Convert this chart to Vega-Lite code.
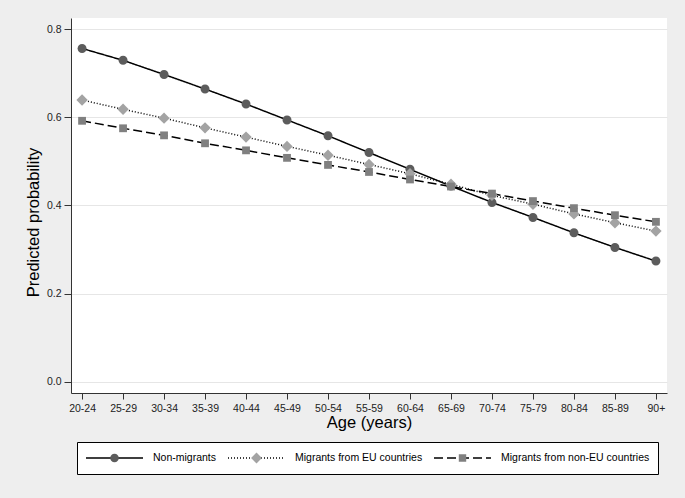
{
  "$schema": "https://vega.github.io/schema/vega-lite/v6.json",
  "width": 596,
  "height": 375,
  "autosize": {"type": "none"},
  "padding": {"left": 71, "top": 18, "right": 18, "bottom": 105},
  "background": "#eeeeee",
  "config": {
    "font": "Liberation Sans",
    "view": {"fill": "white", "stroke": null},
    "axis": {
      "domainColor": "#333333",
      "tickColor": "#333333",
      "labelColor": "#222222",
      "titleColor": "#000000",
      "labelFontSize": 10.5,
      "titleFontSize": 16.5,
      "titleFontWeight": "normal",
      "gridColor": "#e6e6e6",
      "gridWidth": 1
    }
  },
  "data": {
    "values": [
      {"age": "20-24", "group": "Non-migrants", "prob": 0.756},
      {"age": "25-29", "group": "Non-migrants", "prob": 0.729},
      {"age": "30-34", "group": "Non-migrants", "prob": 0.697},
      {"age": "35-39", "group": "Non-migrants", "prob": 0.664},
      {"age": "40-44", "group": "Non-migrants", "prob": 0.630},
      {"age": "45-49", "group": "Non-migrants", "prob": 0.594},
      {"age": "50-54", "group": "Non-migrants", "prob": 0.558},
      {"age": "55-59", "group": "Non-migrants", "prob": 0.520},
      {"age": "60-64", "group": "Non-migrants", "prob": 0.482},
      {"age": "65-69", "group": "Non-migrants", "prob": 0.444},
      {"age": "70-74", "group": "Non-migrants", "prob": 0.407},
      {"age": "75-79", "group": "Non-migrants", "prob": 0.373},
      {"age": "80-84", "group": "Non-migrants", "prob": 0.338},
      {"age": "85-89", "group": "Non-migrants", "prob": 0.305},
      {"age": "90+", "group": "Non-migrants", "prob": 0.274},
      {"age": "20-24", "group": "Migrants from EU countries", "prob": 0.639},
      {"age": "25-29", "group": "Migrants from EU countries", "prob": 0.618},
      {"age": "30-34", "group": "Migrants from EU countries", "prob": 0.598},
      {"age": "35-39", "group": "Migrants from EU countries", "prob": 0.576},
      {"age": "40-44", "group": "Migrants from EU countries", "prob": 0.555},
      {"age": "45-49", "group": "Migrants from EU countries", "prob": 0.534},
      {"age": "50-54", "group": "Migrants from EU countries", "prob": 0.514},
      {"age": "55-59", "group": "Migrants from EU countries", "prob": 0.493},
      {"age": "60-64", "group": "Migrants from EU countries", "prob": 0.472},
      {"age": "65-69", "group": "Migrants from EU countries", "prob": 0.448},
      {"age": "70-74", "group": "Migrants from EU countries", "prob": 0.423},
      {"age": "75-79", "group": "Migrants from EU countries", "prob": 0.403},
      {"age": "80-84", "group": "Migrants from EU countries", "prob": 0.381},
      {"age": "85-89", "group": "Migrants from EU countries", "prob": 0.361},
      {"age": "90+", "group": "Migrants from EU countries", "prob": 0.342},
      {"age": "20-24", "group": "Migrants from non-EU countries", "prob": 0.592},
      {"age": "25-29", "group": "Migrants from non-EU countries", "prob": 0.575},
      {"age": "30-34", "group": "Migrants from non-EU countries", "prob": 0.559},
      {"age": "35-39", "group": "Migrants from non-EU countries", "prob": 0.541},
      {"age": "40-44", "group": "Migrants from non-EU countries", "prob": 0.525},
      {"age": "45-49", "group": "Migrants from non-EU countries", "prob": 0.508},
      {"age": "50-54", "group": "Migrants from non-EU countries", "prob": 0.492},
      {"age": "55-59", "group": "Migrants from non-EU countries", "prob": 0.476},
      {"age": "60-64", "group": "Migrants from non-EU countries", "prob": 0.459},
      {"age": "65-69", "group": "Migrants from non-EU countries", "prob": 0.443},
      {"age": "70-74", "group": "Migrants from non-EU countries", "prob": 0.427},
      {"age": "75-79", "group": "Migrants from non-EU countries", "prob": 0.410},
      {"age": "80-84", "group": "Migrants from non-EU countries", "prob": 0.394},
      {"age": "85-89", "group": "Migrants from non-EU countries", "prob": 0.378},
      {"age": "90+", "group": "Migrants from non-EU countries", "prob": 0.363}
    ]
  },
  "encoding": {
    "x": {
      "field": "age",
      "type": "ordinal",
      "sort": ["20-24","25-29","30-34","35-39","40-44","45-49","50-54","55-59","60-64","65-69","70-74","75-79","80-84","85-89","90+"],
      "scale": {"type": "point", "padding": 0.27},
      "axis": {"title": "Age (years)", "labelAngle": 0, "tickSize": 6, "labelPadding": 4, "grid": false, "titlePadding": 1}
    },
    "y": {
      "field": "prob",
      "type": "quantitative",
      "scale": {"domain": [-0.025, 0.825], "nice": false, "zero": false},
      "axis": {"title": "Predicted probability", "values": [0, 0.2, 0.4, 0.6, 0.8], "format": ".1f", "tickSize": 7, "labelPadding": 3, "grid": true, "titlePadding": 5, "titleY": 204}
    }
  },
  "layer": [
    {
      "mark": {"type": "line", "color": "black", "strokeWidth": 1.5},
      "encoding": {
        "strokeDash": {
          "field": "group",
          "type": "nominal",
          "sort": ["Non-migrants", "Migrants from EU countries", "Migrants from non-EU countries"],
          "scale": {"range": [[1, 0], [1, 2], [9, 4]]},
          "legend": {
            "orient": "none", "legendX": 6, "legendY": 424, "direction": "horizontal",
            "title": null, "symbolType": "stroke", "symbolSize": 3249, "symbolStrokeWidth": 1.5,
            "symbolStrokeColor": "black", "clipHeight": 16, "labelFontSize": 10.5, "labelColor": "black",
            "labelOffset": 9, "columnPadding": 10, "padding": 8,
            "strokeColor": "black", "fillColor": "white", "zindex": 0
          }
        }
      }
    },
    {
      "mark": {"type": "point", "filled": true, "opacity": 1, "size": 3600, "strokeWidth": 1.5},
      "encoding": {
        "shape": {
          "field": "group",
          "type": "nominal",
          "scale": {
            "domain": ["Non-migrants", "Migrants from EU countries", "Migrants from non-EU countries"],
            "range": [
              "M0.15,0A0.15,0.15,0,1,1,-0.15,0A0.15,0.15,0,1,1,0.15,0Z",
              "M0,-0.19L0.19,0L0,0.19L-0.19,0Z",
              "M-0.13,-0.13H0.13V0.13H-0.13Z"
            ]
          },
          "legend": {
            "orient": "none", "legendX": 6, "legendY": 424, "direction": "horizontal",
            "title": null, "symbolSize": 3249, "symbolStrokeWidth": 1.5, "symbolStrokeColor": "transparent",
            "clipHeight": 16, "labelFontSize": 10.5, "labelOpacity": 0,
            "labelOffset": 9, "columnPadding": 10, "padding": 8, "zindex": 1
          }
        },
        "color": {
          "field": "group",
          "type": "nominal",
          "scale": {
            "domain": ["Non-migrants", "Migrants from EU countries", "Migrants from non-EU countries"],
            "range": ["#5c5c5c", "#a3a3a3", "#808080"]
          },
          "legend": {
            "orient": "none", "legendX": 6, "legendY": 424, "direction": "horizontal",
            "title": null, "symbolSize": 3249, "symbolStrokeWidth": 1.5, "symbolStrokeColor": "transparent",
            "clipHeight": 16, "labelFontSize": 10.5, "labelOpacity": 0,
            "labelOffset": 9, "columnPadding": 10, "padding": 8, "zindex": 1
          }
        }
      }
    }
  ]
}
